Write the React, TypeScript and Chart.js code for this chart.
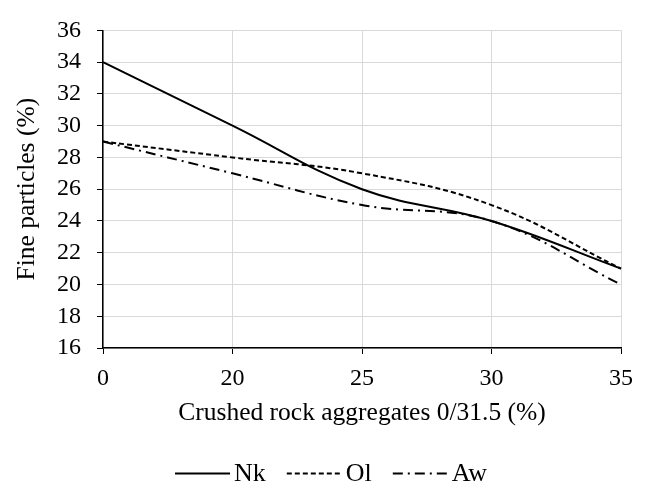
import React, { useEffect, useRef } from 'react';
import { Chart, registerables } from 'chart.js';

Chart.register(...registerables);

const categories = ['0', '20', '25', '30', '35'];
const nkValues = [34, 30, 26, 24, 21];
const olValues = [29, 28, 27, 25, 21];
const awValues = [29, 27, 25, 24, 20];
const yMin = 16;
const yMax = 36;
const yStep = 2;

const FONT = "'Liberation Serif', 'Times New Roman', serif";
const TICK_FS = 24;
const TITLE_FS = 25.5;
const LEGEND_FS = 26;

const legendPlugin = {
  id: 'customLegend',
  afterDraw(chart: any) {
    const ctx = chart.ctx as CanvasRenderingContext2D;
    const items = chart.data.datasets as any[];
    ctx.save();
    ctx.font = `${LEGEND_FS}px ${FONT}`;
    const lineLen = 55;
    const gapText = 4;
    const gapItem = 21;
    const widths = items.map((d) => lineLen + gapText + ctx.measureText(d.label).width);
    const total = widths.reduce((a, b) => a + b, 0) + gapItem * (items.length - 1);
    let x = 331 - total / 2;
    const y = 473.5;
    items.forEach((d, i) => {
      ctx.beginPath();
      ctx.setLineDash(d.borderDash || []);
      ctx.lineWidth = d.borderWidth;
      ctx.strokeStyle = d.borderColor;
      ctx.moveTo(x, y);
      ctx.lineTo(x + lineLen, y);
      ctx.stroke();
      ctx.setLineDash([]);
      ctx.fillStyle = '#000';
      ctx.textBaseline = 'middle';
      ctx.textAlign = 'left';
      ctx.fillText(d.label, x + lineLen + gapText, y + 1);
      x += widths[i] + gapItem;
    });
    ctx.restore();
  },
};

export default function App() {
  const ref = useRef<HTMLCanvasElement>(null);
  useEffect(() => {
    const chart = new Chart(ref.current!, {
      type: 'line',
      data: {
        labels: categories,
        datasets: [
          { label: 'Nk', data: nkValues, borderColor: '#000', borderWidth: 2, borderDash: [], pointRadius: 0, tension: 0.4, fill: false },
          { label: 'Ol', data: olValues, borderColor: '#000', borderWidth: 2, borderDash: [5, 3], pointRadius: 0, tension: 0.4, fill: false },
          { label: 'Aw', data: awValues, borderColor: '#000', borderWidth: 2, borderDash: [10, 5, 2, 5], pointRadius: 0, tension: 0.4, fill: false },
        ],
      },
      options: {
        responsive: false,
        animation: false,
        devicePixelRatio: 1,
        layout: { padding: { left: 0, right: 25, top: 21, bottom: 59 } },
        plugins: { legend: { display: false }, tooltip: { enabled: false } },
        scales: {
          x: {
            type: 'category',
            offset: false,
            grid: { color: '#d9d9d9', lineWidth: 1, tickLength: 6, tickColor: '#000' },
            border: { color: '#000', width: 1.5 },
            ticks: { color: '#000', font: { family: FONT, size: TICK_FS }, padding: 10, maxRotation: 0, autoSkip: false },
            title: { display: true, text: 'Crushed rock aggregates 0/31.5 (%)', color: '#000', font: { family: FONT, size: TITLE_FS }, padding: { top: 0, bottom: 0 } },
            afterFit: (s: any) => { s.height = 81; },
          },
          y: {
            min: yMin,
            max: yMax,
            ticks: { stepSize: yStep, color: '#000', font: { family: FONT, size: TICK_FS }, padding: 16, autoSkip: false },
            grid: { color: '#d9d9d9', lineWidth: 1, tickLength: 6, tickColor: '#000' },
            border: { color: '#000', width: 1.5 },
            title: { display: true, text: 'Fine particles (%)', color: '#000', font: { family: FONT, size: TITLE_FS }, padding: { top: 12, bottom: 0 } },
            afterFit: (s: any) => { s.width = 103; },
          },
        },
      },
      plugins: [legendPlugin],
    });
    return () => chart.destroy();
  }, []);
  return (
    <div style={{ position: 'fixed', left: 0, top: 0, width: 646, height: 488 }}>
      <canvas ref={ref} width={646} height={488} style={{ width: 646, height: 488 }} />
    </div>
  );
}
